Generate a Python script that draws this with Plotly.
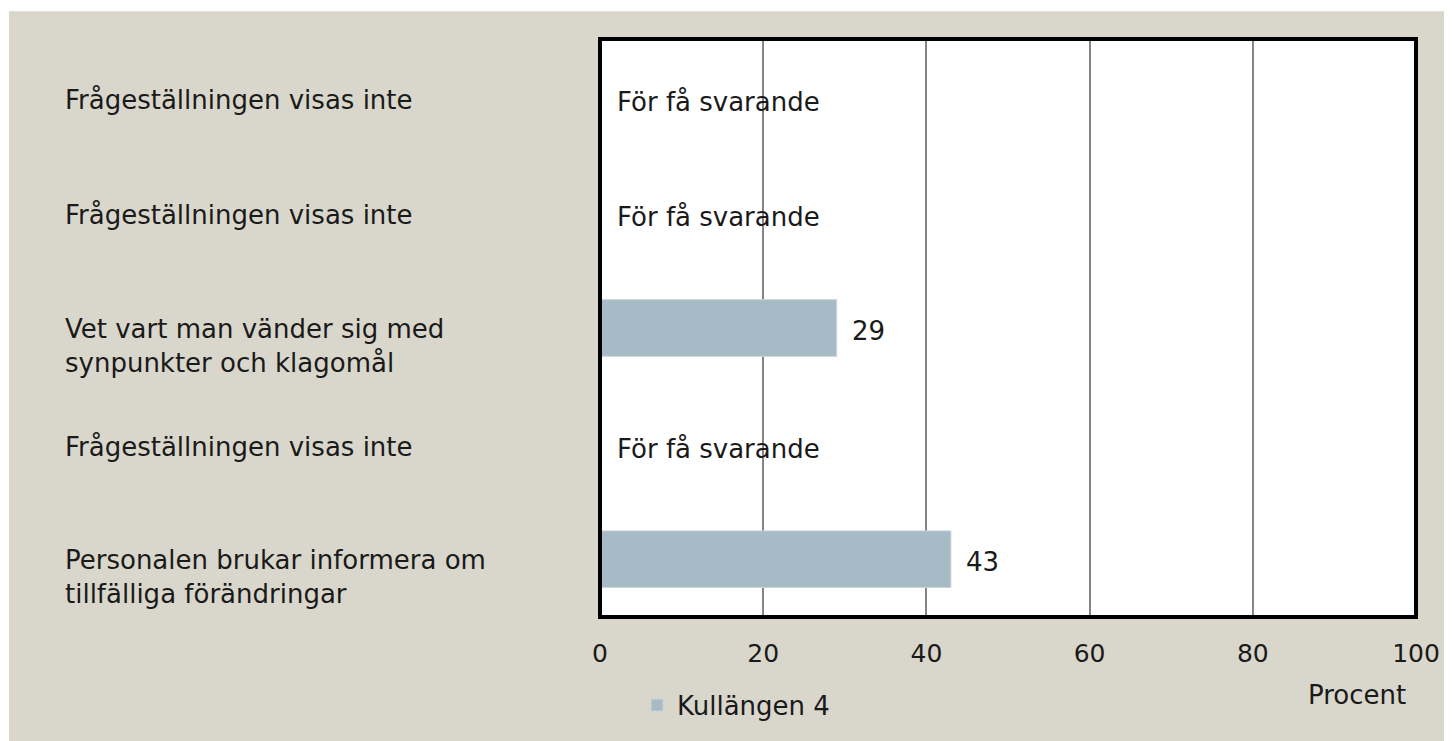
import plotly.graph_objects as go

categories = [
    "Frågeställningen visas inte",
    "Frågeställningen visas inte",
    "Vet vart man vänder sig med<br>synpunkter och klagomål",
    "Frågeställningen visas inte",
    "Personalen brukar informera om<br>tillfälliga förändringar",
]
values = [None, None, 29, None, 43]
series_name = "Kullängen 4"
missing_text = "För få svarande"
x_ticks = [0, 20, 40, 60, 80, 100]
x_title = "Procent"

BG = "#D9D7CB"
BAR = "#A7BBC6"
FONT = "DejaVu Sans"
FS = 26
TXT = "#1a1a1a"

# page has 8px body margin; figure coords = screen - 8
OX, OY = 8, 8
W, H = 1452 - OX, 741 - OY
L, R, T, B = 600 - OX, 1416 - OX, 39 - OY, 620 - OY
pw, ph = R - L, B - T

def px2x(sx):
    return (sx - OX - L) / pw

def py2y(sy):
    return (B - (sy - OY)) / ph

ypos = list(range(len(categories)))

fig = go.Figure()
fig.add_trace(go.Bar(
    y=ypos, x=[v if v is not None else 0 for v in values],
    orientation="h", name=series_name,
    marker=dict(color=BAR, line=dict(color="#c9d4da", width=1)),
    width=0.49, showlegend=True,
))

ann = []
for i, (c, v) in enumerate(zip(categories, values)):
    two_line = "<br>" in c
    ann.append(dict(xref="paper", yref="y", x=px2x(63), y=i, text=c,
                    xanchor="left", align="left", showarrow=False,
                    yshift=-18 if two_line else -3,
                    font=dict(family=FONT, size=FS, color=TXT)))
    if v is None:
        ann.append(dict(xref="x", yref="y", x=0, y=i, text=missing_text,
                        xanchor="left", xshift=15, yshift=-5, showarrow=False,
                        font=dict(family=FONT, size=FS, color=TXT)))
    else:
        ann.append(dict(xref="x", yref="y", x=v, y=i, text=str(v),
                        xanchor="left", xshift=13, yshift=-3, showarrow=False,
                        font=dict(family=FONT, size=FS, color=TXT)))
ann.append(dict(xref="paper", yref="paper", x=px2x(1357), y=py2y(698), text=x_title,
                xanchor="center", yanchor="middle", showarrow=False,
                font=dict(family=FONT, size=FS, color=TXT)))

shapes = [
    dict(type="rect", xref="paper", yref="paper", x0=px2x(0), x1=px2x(9),
         y0=py2y(760), y1=py2y(-5), fillcolor="white", line=dict(width=0), layer="below"),
    dict(type="rect", xref="paper", yref="paper", x0=px2x(0), x1=px2x(1460),
         y0=py2y(11), y1=py2y(-5), fillcolor="white", line=dict(width=0), layer="below"),
    dict(type="rect", xref="paper", yref="paper", x0=0, x1=1, y0=0, y1=1,
         line=dict(color="black", width=4), layer="above"),
]

fig.update_layout(
    width=W, height=H,
    margin=dict(l=L, r=W - R, t=T, b=H - B),
    paper_bgcolor=BG, plot_bgcolor="white",
    font=dict(family=FONT, size=FS, color=TXT),
    xaxis=dict(range=[0, 100], tickvals=x_ticks, showgrid=True, gridcolor="#858585",
               gridwidth=2, zeroline=False, ticks="", ticklabelstandoff=19,
               tickfont=dict(family=FONT, size=FS - 1, color=TXT), fixedrange=True),
    yaxis=dict(range=[len(categories) - 0.5, -0.5], showticklabels=False,
               showgrid=False, zeroline=False, ticks="", fixedrange=True),
    annotations=ann, shapes=shapes,
    showlegend=True,
    legend=dict(orientation="h", x=px2x(637), y=py2y(685), xanchor="left", yanchor="top",
                bgcolor="rgba(0,0,0,0)", font=dict(family=FONT, size=FS, color=TXT),
                itemwidth=30),
)
fig.write_html("out.html")
